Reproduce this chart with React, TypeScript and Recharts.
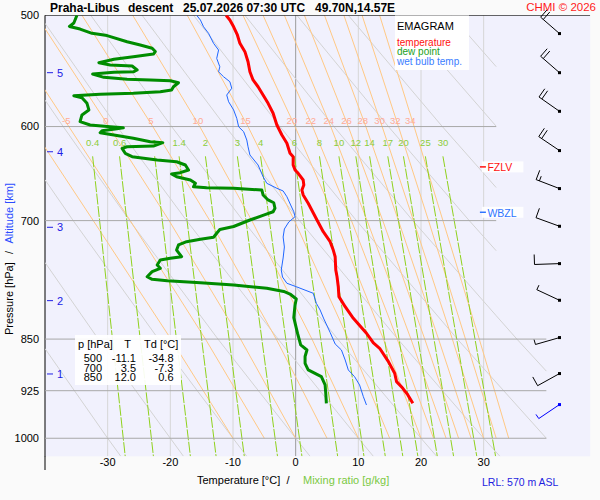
import React from 'react';
import { ScatterChart, Scatter, XAxis, YAxis, CartesianGrid } from 'recharts';

const FONT = '"Liberation Sans", Arial, sans-serif';

// profiles as [pressure hPa, temperature °C]
const temperature: [number, number][] = [
  [500, -11.1], [503.9, -10.5], [509.5, -9.9], [516.4, -9.3], [523.5, -8.9], [530.7, -8.1],
  [539.5, -7.6], [548.5, -7.3], [555.9, -6.8], [562.1, -6.0], [569.8, -5.2], [577.6, -4.4],
  [587.1, -3.6], [598.5, -3.0], [608.4, -2.2], [616.7, -1.4], [626.9, -0.9], [630.4, -0.4],
  [639.0, -0.4], [644.3, -0.1], [647.8, 0.4], [654.9, 1.2], [660.3, 1.3], [665.8, 1.0],
  [671.2, 1.2], [680.4, 2.0], [699.3, 3.4], [712.8, 4.4], [724.6, 5.5], [734.6, 6.0],
  [742.6, 6.3], [759.0, 6.4], [767.4, 6.6], [780.1, 6.8], [792.9, 6.9], [806.1, 7.9],
  [821.5, 9.2], [841.9, 11.3], [855.4, 12.4], [862.9, 13.4], [882.0, 14.8], [899.0, 15.8],
  [911.4, 16.1], [921.4, 17.1], [931.5, 17.9], [944.3, 18.7],
];

const dewPoint: [number, number][] = [
  [500, -34.9], [506.4, -35.4], [509.2, -36.1], [511.4, -34.4], [515.0, -32.5], [516.9, -30.1],
  [522.1, -26.9], [525.0, -24.8], [527.8, -22.9], [530.6, -22.4], [532.8, -22.7], [535.1, -25.9],
  [537.4, -29.0], [540.4, -31.4], [542.4, -29.6], [543.3, -26.1], [546.9, -25.3], [548.5, -25.9],
  [549.0, -29.0], [550.5, -32.4], [553.5, -30.6], [555.3, -26.9], [555.9, -23.2], [556.6, -20.0],
  [558.4, -18.7], [562.1, -19.5], [565.2, -19.8], [566.7, -21.6], [568.2, -25.9], [569.1, -31.2],
  [570.4, -35.4], [572.3, -34.1], [577.6, -33.3], [583.9, -33.0], [588.7, -34.1], [595.2, -34.4],
  [598.5, -32.8], [600.2, -29.6], [601.2, -27.5], [602.5, -28.8], [604.1, -30.9], [606.1, -31.2],
  [608.4, -29.0], [611.7, -25.9], [615.1, -23.2], [616.1, -21.2], [619.5, -22.7], [620.2, -26.9],
  [621.8, -27.7], [626.9, -27.2], [630.4, -26.1], [633.8, -22.1], [635.6, -19.0], [639.0, -17.6],
  [644.3, -17.1], [647.1, -18.4], [648.5, -19.8], [651.4, -19.0], [654.9, -16.8], [658.5, -16.0],
  [662.2, -16.3], [663.3, -14.2], [663.9, -9.9], [665.8, -5.4], [671.2, -5.2], [676.7, -4.4],
  [679.8, -3.5], [686.0, -3.3], [689.9, -3.6], [693.5, -5.0], [699.3, -7.3], [706.8, -9.9],
  [710.3, -12.1], [714.7, -12.6], [719.4, -13.1], [721.7, -15.2], [724.6, -17.4], [728.5, -18.7],
  [734.6, -19.0], [742.6, -18.2], [744.6, -20.0], [746.7, -21.6], [752.8, -22.1], [756.9, -21.6],
  [761.1, -22.9], [767.4, -23.7], [770.7, -22.9], [772.4, -20.5], [774.9, -15.2], [777.9, -9.9],
  [782.1, -4.6], [786.2, -1.9], [789.5, -0.9], [796.0, 0.1], [803.8, -0.1], [820.5, -0.3],
  [842.2, 0.3], [858.2, 0.8], [865.3, 1.8], [874.6, 1.5], [884.4, 1.5], [894.1, 2.0],
  [904.0, 4.1], [916.4, 4.7], [928.9, 4.8], [944.3, 4.9],
];

const wetBulb: [number, number][] = [
  [500, -15.8], [503.9, -15.2], [509.5, -14.7], [515.0, -13.9], [523.5, -13.1], [529.3, -12.3],
  [536.6, -12.6], [544.0, -12.1], [548.5, -12.3], [553.0, -11.5], [557.5, -10.5], [563.5, -10.2],
  [569.8, -11.0], [576.1, -10.7], [583.9, -9.9], [592.0, -9.4], [600.2, -9.1], [605.1, -8.3],
  [613.4, -7.8], [620.2, -7.6], [628.6, -7.3], [639.0, -6.0], [651.4, -5.2], [658.5, -4.6],
  [663.9, -3.0], [666.8, -2.0], [673.1, -1.4], [682.3, -0.8], [689.9, -0.3], [695.5, -0.1],
  [701.6, -1.1], [709.7, -1.8], [719.1, -2.0], [730.9, -1.8], [744.2, -2.0], [759.0, -2.3],
  [767.8, -2.1], [775.7, -1.4], [780.1, 0.1], [788.5, 2.8], [801.6, 3.3], [810.4, 3.9],
  [822.4, 4.5], [840.8, 5.5], [856.8, 6.3], [865.3, 7.3], [879.6, 7.9], [894.1, 8.4],
  [904.0, 9.4], [916.4, 10.2], [934.1, 10.8], [946.9, 11.3],
];

// saturated adiabats: temperature at MOIST_LEVELS, keyed by wet-bulb potential temperature
const MOIST_LEVELS = [1000, 850, 700, 600, 500];
const moistAdiabats: [number, number[]][] = [
  [-10, [-10, -19.9, -32.3, -42.2]],
  [-5, [-5, -14.4, -26.4, -36.2, -47.8]],
  [0, [0, -8.8, -20.2, -29.8, -41.4]],
  [5, [5, -3.1, -13.7, -22.8, -34.1]],
  [10, [10, 2.6, -7.0, -15.3, -26.0]],
  [15, [15, 8.4, -0.2, -7.6, -17.3]],
  [20, [20, 14.0, 6.4, -0.1, -8.4]],
  [22, [22, 16.2, 8.9, 2.7, -5.2]],
  [24, [24, 18.4, 11.4, 5.6, -1.8]],
  [26, [26, 20.6, 13.9, 8.4, 1.4]],
  [28, [28, 22.8, 16.4, 11.2, 4.6]],
  [30, [30, 25.0, 18.8, 13.8, 7.7]],
  [32, [32, 27.1, 21.2, 16.4, 10.6]],
  [34, [34, 29.3, 23.5, 18.9, 13.4]],
];
const MOIST_LABELS = ['-5', '0', '5', '10', '15', '20', '22', '24', '26', '28', '30', '32', '34'];
const MOIST_LABEL_T = [-36.6, -30.3, -23.1, -15.6, -8.0, -0.6, 2.4, 5.3, 8.1, 10.7, 13.4, 15.9, 18.3];
const MOIST_LABEL_P = 594;

// dry adiabats, every 10 °C of potential temperature, as [p, T]
const dryAdiabats: [number, number][][] = [
  [[1030, -27.9], [1000, -30], [863.4, -40]],
  [[1030, -17.9], [1000, -20], [850, -31.5], [749.7, -40]],
  [[1030, -7.8], [1000, -10], [850, -21.9], [700, -35.5], [654.7, -40]],
  [[1030, 2.3], [1000, 0], [850, -12.4], [700, -26.5], [600, -37.1], [574.5, -40]],
  [[1030, 12.4], [1000, 10], [850, -2.8], [700, -17.4], [600, -28.5], [506.6, -40]],
  [[1030, 22.5], [1000, 20], [850, 6.7], [700, -8.4], [600, -19.8], [500, -32.7]],
  [[1030, 32.6], [1000, 30], [850, 16.3], [700, 0.6], [600, -11.2], [500, -24.5]],
  [[1000, 40], [850, 25.8], [700, 9.7], [600, -2.5], [500, -16.3]],
  [[895.8, 40], [850, 35.3], [818, 32.0], [700, 18.7], [600, 6.1], [500, -8.1]],
  [[735.4, 32], [700, 27.7], [600, 14.8], [500, 0.2]],
  [[663.1, 32], [600, 23.4], [500, 8.4]],
  [[599.7, 32], [500, 16.6]],
  [[543.9, 32], [500, 24.8]],
];

// mixing ratio lines [g/kg]
const MIX_LABELS = ['0.4', '0.6', '1', '1.4', '2', '3', '4', '6', '8', '10', '12', '14', '17', '20', '25', '30'];
const MIX_TOP_T = [-32.4, -28.1, -22.5, -18.6, -14.4, -9.3, -5.6, -0.2, 3.8, 6.9, 9.6, 11.8, 14.7, 17.2, 20.7, 23.5];
const MIX_BOTTOM_T = [-27.2, -22.7, -16.8, -12.7, -8.2, -2.9, 1.0, 6.7, 10.9, 14.3, 17.1, 19.5, 22.6, 25.2, 28.9, 31.9];
const MIX_TOP_P = 630;
const MIX_LABEL_P = 616;

const T_TICKS = [-30, -20, -10, 0, 10, 20, 30];
const P_TICKS = [500, 600, 700, 850, 925, 1000];
const ISOBARS = [600, 700, 850, 925, 1000];

const ALT_KM = [5, 4, 3, 2, 1];
const ALT_P = [549.3, 625.3, 707.7, 798.1, 900.0];

// wind barbs (direction from, knots)
const BARB_P = [515.2, 549.3, 585.2, 624.1, 664.2, 706.5, 751.1, 797.6, 847.9, 899.4, 946.3];
const BARB_DIR = [311, 311, 305, 304, 291, 290, 268, 295, 254, 241, 236];
const BARB_KT = [20, 20, 20, 20, 15, 10, 10, 5, 5, 10, 5];

const levelMarks = [
  { p: 641, label: 'FZLV', color: '#ff1010' },
  { p: 690.5, label: 'WBZL', color: '#2f74ff' },
];

const TABLE_P = ['500', '700', '850'];
const TABLE_T = ['-11.1', '3.5', '12.0'];
const TABLE_TD = ['-34.8', '-7.3', '0.6'];

const P_TOP = 500;
const P_BOTTOM = 1030;
const T_LEFT = -40;
const T_RIGHT = 47;

const pts = (arr: [number, number][]) => arr.map(([p, t]) => ({ p, t }));
const noDot = () => <g />;

function lineSeries(key: string, data: { p: number; t: number }[], stroke: string, width: number, dash?: string) {
  return (
    <Scatter
      key={key}
      data={data}
      line={{ stroke, strokeWidth: width, strokeDasharray: dash, strokeLinejoin: 'round' }}
      lineType="joint"
      shape={noDot}
      isAnimationActive={false}
      legendType="none"
    />
  );
}

const textShape = (fill: string, size: number) => (props: any) => (
  <text x={props.cx} y={props.cy} textAnchor="middle" dominantBaseline="central"
    fontSize={size} fill={fill} fontFamily={FONT}>
    {props.payload.label}
  </text>
);

const Barb = (props: any) => {
  const { cx, cy, payload } = props;
  const rad = (payload.dir * Math.PI) / 180;
  const ux = Math.sin(rad), uy = -Math.cos(rad);
  const px = Math.cos(rad), py = Math.sin(rad);
  const L = 25;
  const tx = cx + ux * L, ty = cy + uy * L;
  const ticks: React.ReactNode[] = [];
  let rest = payload.kt;
  let k = 0;
  while (rest >= 5) {
    const len = rest >= 10 ? 10 : 5;
    const bx = tx - ux * k * 3.5, by = ty - uy * k * 3.5;
    ticks.push(<line key={k} x1={bx} y1={by} x2={bx + px * len} y2={by + py * len} />);
    rest -= len;
    k++;
  }
  return (
    <g stroke={payload.color} strokeWidth={1} fill="none">
      <line x1={cx} y1={cy} x2={tx} y2={ty} />
      {ticks}
      <rect x={cx - 1.5} y={cy - 1.5} width={3} height={3} fill={payload.color} stroke="none" />
    </g>
  );
};

const AltTick = (props: any) => {
  const { cx, cy, payload } = props;
  return (
    <g>
      <line x1={cx + 2} x2={cx + 8} y1={cy} y2={cy} stroke="#2020e6" strokeWidth={1} />
      <text x={cx + 12} y={cy} dominantBaseline="central" fontSize={11} fill="#2020e6" fontFamily={FONT}>
        {payload.km}
      </text>
    </g>
  );
};

const LevelMark = (props: any) => {
  const { cx, cy, payload } = props;
  return (
    <g>
      <rect x={cx + 2} y={cy - 5.5} width={41.5} height={11} fill="#ffffff" fillOpacity={0.9} />
      <line x1={cx} x2={cx + 6} y1={cy} y2={cy} stroke={payload.color} strokeWidth={1.5} />
      <text x={cx + 7.5} y={cy + 0.5} dominantBaseline="central" fontSize={10.5} fill={payload.color} fontFamily={FONT}>
        {payload.label}
      </text>
    </g>
  );
};

// one <text> per table column, rows as tspans
const TableColumn = ({ x, values }: { x: number; values: string[] }) => (
  <text x={x} y={358} textAnchor="end" dominantBaseline="central">
    {values.map((v, i) => (
      <tspan key={i} x={x} y={358 + i * 9.6}>{v}</tspan>
    ))}
  </text>
);

export default function App() {
  const tickStyle = { fontSize: 11, fill: '#000', fontFamily: FONT };

  const dry = dryAdiabats.map((line, i) => lineSeries(`dry${i}`, pts(line), '#d3d3d3', 1));
  const moist = moistAdiabats.map(([tw, temps]) =>
    lineSeries(`moist${tw}`, temps.map((t, i) => ({ p: MOIST_LEVELS[i], t })), '#ffc884', 1)
  );
  const mix = MIX_LABELS.map((w, i) =>
    lineSeries(`mix${w}`, [{ p: MIX_TOP_P, t: MIX_TOP_T[i] }, { p: P_BOTTOM, t: MIX_BOTTOM_T[i] }], '#8fd11d', 1, '11 1.5')
  );
  const isotherms = T_TICKS.map((t) =>
    lineSeries(`iso${t}`, [{ p: P_TOP, t }, { p: P_BOTTOM, t }], t === 0 ? '#9c9c9c' : '#d6d6d6', 1)
  );
  const isobars = ISOBARS.map((p) =>
    lineSeries(`bar${p}`, [{ p, t: T_LEFT }, { p, t: p < 800 ? 32 : 40 }], '#a8a8a8', 1)
  );

  const moistLabels = MOIST_LABELS.map((label, i) => ({ p: MOIST_LABEL_P, t: MOIST_LABEL_T[i], label }));
  const mixLabels = MIX_LABELS.map((label, i) => ({ p: MIX_LABEL_P, t: MIX_TOP_T[i], label }));
  const altData = ALT_P.map((p, i) => ({ p, t: T_LEFT, km: ALT_KM[i] }));
  const barbData = BARB_P.map((p, i) => ({
    p, t: 42.1, dir: BARB_DIR[i], kt: BARB_KT[i],
    color: i === BARB_P.length - 1 ? '#0000ff' : '#000000',
  }));
  const levelData = levelMarks.map((m) => ({ ...m, t: 29.4 }));

  return (
    <div style={{ position: 'absolute', left: 0, top: 0, width: 600, height: 500, background: '#fafafa', fontFamily: FONT }}>
      <ScatterChart width={600} height={500} margin={{ top: 15.3, right: 9.8, bottom: 0, left: 0 }}>
        <CartesianGrid fill="#f1f1fd" stroke="none" horizontal={false} vertical={false} />
        <XAxis type="number" dataKey="t" domain={[T_LEFT, T_RIGHT]} allowDataOverflow ticks={T_TICKS}
          interval={0} height={43.7} axisLine={false} tickLine={false} tickSize={2} tickMargin={0} tick={tickStyle} />
        <YAxis type="number" dataKey="p" scale="log" domain={[P_TOP, P_BOTTOM]} reversed allowDataOverflow
          ticks={P_TICKS} interval={0} width={45} axisLine={{ stroke: '#000' }} tickLine={false}
          tickSize={4} tickMargin={2} tick={tickStyle} />
        <XAxis xAxisId="free" type="number" dataKey="t" domain={[T_LEFT, T_RIGHT]} hide />
        <YAxis yAxisId="free" type="number" dataKey="p" scale="log" domain={[P_TOP, P_BOTTOM]} reversed hide />

        {isotherms}
        {dry}
        {moist}
        {mix}
        {isobars}
        {lineSeries('top', [{ p: P_TOP, t: T_LEFT }, { p: P_TOP, t: T_RIGHT }], '#000000', 1)}

        <Scatter xAxisId="free" yAxisId="free" data={moistLabels} shape={textShape('#ffab96', 9.5)} isAnimationActive={false} legendType="none" />
        <Scatter xAxisId="free" yAxisId="free" data={mixLabels} shape={textShape('#8ccd3a', 9.5)} isAnimationActive={false} legendType="none" />

        {lineSeries('wetbulb', pts(wetBulb), '#1f66ff', 1)}
        {lineSeries('dewpoint', pts(dewPoint), '#008c00', 3)}
        {lineSeries('temperature', pts(temperature), '#ff0000', 3)}

        <Scatter xAxisId="free" yAxisId="free" data={altData} shape={AltTick} isAnimationActive={false} legendType="none" />
        <Scatter xAxisId="free" yAxisId="free" data={levelData} shape={LevelMark} isAnimationActive={false} legendType="none" />
        <Scatter xAxisId="free" yAxisId="free" data={barbData} shape={Barb} isAnimationActive={false} legendType="none" />
      </ScatterChart>

      <svg width={600} height={500} style={{ position: 'absolute', left: 0, top: 0, pointerEvents: 'none' }} fontFamily={FONT}>
        <g fontSize={12} fontWeight="bold" fill="#000">
          <text x={50} y={7.5} dominantBaseline="central">Praha-Libus</text>
          <text x={128} y={7.5} dominantBaseline="central">descent</text>
          <text x={183} y={7.5} dominantBaseline="central">25.07.2026 07:30 UTC</text>
          <text x={315} y={7.5} dominantBaseline="central">49.70N,14.57E</text>
        </g>
        <text x={596} y={7} textAnchor="end" dominantBaseline="central" fontSize={11.5} fill="#ff1a1a">CHMI © 2026</text>

        <line x1={45} x2={45} y1={456} y2={470} stroke="#000" />

        <rect x={395} y={15.5} width={74} height={54.5} fill="#ffffff" />
        <text x={397} y={26} dominantBaseline="central" fontSize={11} fill="#000">EMAGRAM</text>
        <text x={397} y={42.3} dominantBaseline="central" fontSize={10} fill="#ff1010">temperature</text>
        <text x={397} y={51.8} dominantBaseline="central" fontSize={10} fill="#22a022">dew point</text>
        <text x={397} y={61.3} dominantBaseline="central" fontSize={10} fill="#3a7dff">wet bulb temp.</text>

        <rect x={75} y={335} width={106} height={50} fill="#ffffff" fillOpacity={0.92} />
        <g fontSize={11} fill="#000">
          <text x={78} y={343.5} dominantBaseline="central">p [hPa]</text>
          <text x={127.5} y={343.5} textAnchor="middle" dominantBaseline="central">T</text>
          <text x={144} y={343.5} dominantBaseline="central">Td [°C]</text>
          <TableColumn x={102} values={TABLE_P} />
          <TableColumn x={136} values={TABLE_T} />
          <TableColumn x={173.5} values={TABLE_TD} />
        </g>

        <text x={197} y={479.5} dominantBaseline="central" fontSize={11} fill="#000">Temperature [°C]</text>
        <text x={288} y={479.5} textAnchor="middle" dominantBaseline="central" fontSize={11} fill="#000">/</text>
        <text x={303} y={479.5} dominantBaseline="central" fontSize={11} fill="#7ac943">Mixing ratio [g/kg]</text>
        <text x={482} y={481.5} dominantBaseline="central" fontSize={10.5} fill="#1e1ee0">LRL: 570 m ASL</text>

        <text transform="translate(12.5,335) rotate(-90)" fontSize={11} fill="#000">Pressure [hPa]</text>
        <text transform="translate(12.5,252.5) rotate(-90)" textAnchor="middle" fontSize={11} fill="#000">/</text>
        <text transform="translate(12.5,243.5) rotate(-90)" fontSize={11} fill="#2a4cff">Altitude [km]</text>
      </svg>
    </div>
  );
}
